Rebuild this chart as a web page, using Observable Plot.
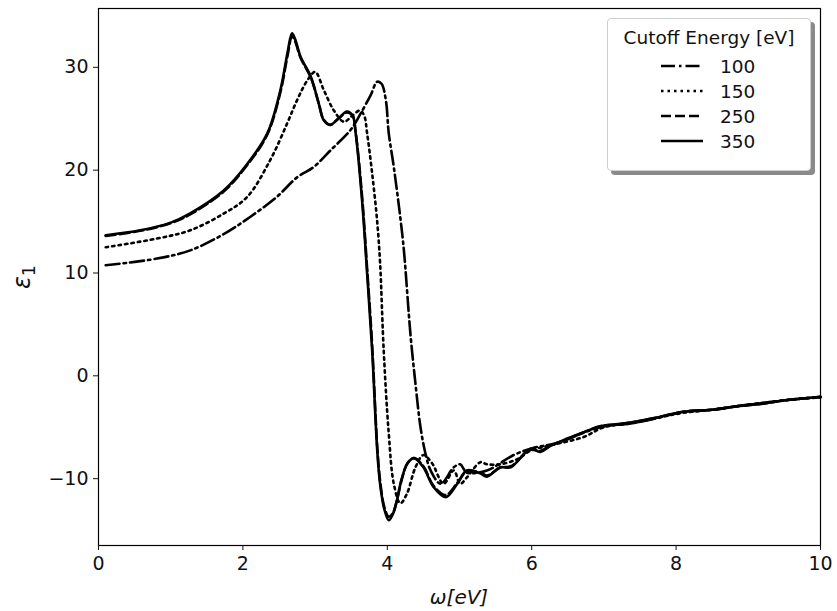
<!DOCTYPE html>
<html>
<head>
<meta charset="utf-8">
<script src="https://cdn.jsdelivr.net/npm/d3@7"></script>
<script src="https://cdn.jsdelivr.net/npm/@observablehq/plot@0.6"></script>
<style>
  html, body { margin: 0; padding: 0; background: #fff; }
  #wrap { position: relative; width: 837px; height: 611px; font-family: "DejaVu Sans", sans-serif; }
  #legend { position: absolute; left: 607px; top: 18px; width: 204px; height: 153px;
    background: #fff; border: 1px solid #cfcfcf; border-radius: 4px;
    box-shadow: 4px 4px 0 #8a8a8a; box-sizing: border-box; font-size: 18.5px; color: #111; }
  #legend .title { text-align: center; margin-top: 8px; line-height: 22px; }
  #legend .row { position: absolute; left: 52px; height: 24px; display: flex; align-items: center; }
  #legend .row span { margin-left: 16px; }
</style>
</head>
<body>
<div id="wrap"></div>
<script>
// Cutoff energies (legend labels)
const cutoffs = ["100", "150", "250", "350"];

// 100 eV (dash-dot)
const x100 = [0.1,0.81,1.27,1.74,2.1,2.47,2.75,2.98,3.21,3.49,3.63,3.77,3.86,3.92,3.98,4.02,4.09,4.18,4.23,4.32,4.39,4.46,4.53,4.6,4.74,4.92,5.01,5.1,5.38,5.75,6.03,6.31,6.95,7.4,7.8,8.1,8.5,8.9,9.3,9.6,10];
const y100 = [10.75,11.4,12.2,13.8,15.45,17.4,19.3,20.3,21.9,23.9,25.5,27.3,28.6,28.4,26.8,23.6,20.3,15.4,12.2,4.1,-0.76,-5.0,-7.6,-9.2,-10.5,-8.9,-8.6,-9.4,-9.2,-7.7,-7.0,-6.6,-5.0,-4.6,-4.0,-3.5,-3.3,-2.9,-2.55,-2.3,-2.05];

// 150 eV (dotted)
const x150 = [0.1,0.81,1.27,1.74,2.06,2.38,2.61,2.75,2.89,3.0,3.12,3.26,3.40,3.5,3.62,3.68,3.72,3.79,3.86,3.9,3.95,4.02,4.09,4.18,4.27,4.39,4.5,4.62,4.78,4.92,5.01,5.1,5.29,5.38,5.57,5.8,5.98,6.3,6.72,7.0,7.4,7.8,8.1,8.5,8.9,9.3,9.6,10];
const y150 = [12.5,13.35,14.15,15.8,17.4,21.0,24.5,26.8,28.7,29.55,27.8,25.8,24.7,25.2,25.8,25.3,23.6,19.7,15.0,11.0,2.5,-5.6,-10.5,-12.4,-11.5,-8.9,-7.7,-8.5,-10.5,-9.2,-10.5,-9.9,-8.4,-8.6,-8.6,-8.1,-7.3,-6.7,-5.95,-5.0,-4.6,-4.0,-3.6,-3.3,-2.9,-2.55,-2.3,-2.1];

// 250 eV (dashed)
const x250 = [0.1,0.58,1.0,1.27,1.73,2.06,2.34,2.52,2.62,2.68,2.72,2.80,2.94,3.05,3.12,3.21,3.32,3.44,3.52,3.56,3.65,3.72,3.79,3.86,3.9,3.96,4.02,4.08,4.13,4.2,4.28,4.37,4.5,4.64,4.81,4.97,5.1,5.29,5.38,5.57,5.71,5.98,6.12,6.26,6.49,6.75,6.95,7.2,7.41,7.7,8.1,8.5,8.8,9.2,9.49,10];
const y250 = [13.6,14.1,14.85,15.7,17.9,20.5,23.5,27.6,31.2,33.0,32.6,30.9,29.0,26.5,24.9,24.4,25.0,25.6,25.3,23.8,17.5,10.5,3.0,-6.8,-10.2,-12.8,-13.7,-13.3,-12.2,-10.1,-8.5,-8.0,-8.8,-10.7,-11.6,-10.4,-9.3,-9.4,-9.7,-8.9,-8.8,-7.2,-7.3,-6.8,-6.2,-5.4,-4.9,-4.7,-4.5,-4.1,-3.5,-3.3,-3.0,-2.7,-2.4,-2.05];

// 350 eV (solid)
const x350 = [0.1,0.58,1.0,1.27,1.73,2.06,2.34,2.52,2.62,2.68,2.72,2.80,2.94,3.05,3.12,3.21,3.32,3.44,3.52,3.56,3.65,3.72,3.79,3.86,3.9,3.96,4.02,4.08,4.13,4.2,4.28,4.37,4.5,4.64,4.81,4.97,5.1,5.29,5.38,5.57,5.71,5.98,6.12,6.26,6.49,6.75,6.95,7.2,7.41,7.7,8.1,8.5,8.8,9.2,9.49,10];
const y350 = [13.67,14.15,14.9,15.8,18.0,20.6,23.6,27.8,31.5,33.3,32.8,31.0,29.1,26.5,24.85,24.4,25.0,25.7,25.3,23.7,17.1,10.0,2.5,-7.2,-10.5,-13.0,-14.05,-13.4,-12.2,-10.0,-8.5,-8.0,-8.9,-10.8,-11.8,-10.5,-9.2,-9.5,-9.8,-8.9,-8.9,-7.1,-7.4,-6.8,-6.1,-5.4,-4.9,-4.7,-4.5,-4.1,-3.5,-3.3,-3.0,-2.7,-2.4,-2.06];

// Axis ticks
const xTicks = [0, 2, 4, 6, 8, 10];
const yTicks = [-10, 0, 10, 20, 30];

const series = [
  {name: "100", xs: x100, ys: y100, dash: "14,4,2.5,4"},
  {name: "150", xs: x150, ys: y150, dash: "2.5,4"},
  {name: "250", xs: x250, ys: y250, dash: "10,4"},
  {name: "350", xs: x350, ys: y350, dash: null}
];

const marks = [];
for (const s of series) {
  const data = s.xs.map((x, i) => ({x, y: s.ys[i]}));
  marks.push(Plot.line(data, {x: "x", y: "y", stroke: "#000", strokeWidth: 2.6,
    strokeDasharray: s.dash || undefined, curve: "catmull-rom", strokeLinejoin: "round"}));
}
marks.push(Plot.frame({stroke: "#000", strokeWidth: 1.2}));
marks.push(Plot.axisX({ticks: xTicks, tickSize: 5, tickPadding: 6, fontSize: 19, label: null, tickFormat: d => String(d)}));
marks.push(Plot.axisY({ticks: yTicks, tickSize: 5, tickPadding: 5, fontSize: 19, label: null, tickFormat: d => (d < 0 ? "\u2212" + Math.abs(d) : String(d))}));

const chart = Plot.plot({
  width: 837,
  height: 611,
  marginLeft: 98,
  marginRight: 17,
  marginTop: 8,
  marginBottom: 66,
  style: {fontFamily: "DejaVu Sans", color: "#111", background: "#fff"},
  x: {domain: [0, 10]},
  y: {domain: [-16.5, 35.72]},
  marks
});

// Axis labels as SVG text
const ns = "http://www.w3.org/2000/svg";
const xl = document.createElementNS(ns, "text");
xl.setAttribute("x", 459); xl.setAttribute("y", 604);
xl.setAttribute("text-anchor", "middle");
xl.setAttribute("font-family", "DejaVu Sans"); xl.setAttribute("font-size", "20");
xl.setAttribute("font-style", "italic"); xl.setAttribute("fill", "#111");
xl.textContent = "ω[eV]";
chart.appendChild(xl);

const yl = document.createElementNS(ns, "text");
yl.setAttribute("transform", "translate(30,277) rotate(-90)");
yl.setAttribute("text-anchor", "middle");
yl.setAttribute("font-family", "DejaVu Sans"); yl.setAttribute("font-size", "24");
yl.setAttribute("font-style", "italic"); yl.setAttribute("fill", "#111");
yl.innerHTML = 'ε<tspan font-style="normal" font-size="17" dy="5">1</tspan>';
chart.appendChild(yl);

const wrap = document.getElementById("wrap");
wrap.appendChild(chart);

// Legend
const legend = document.createElement("div");
legend.id = "legend";
legend.innerHTML = '<div class="title">Cutoff Energy [eV]</div>';
series.forEach((s, i) => {
  const row = document.createElement("div");
  row.className = "row";
  row.style.top = (35 + i * 25) + "px";
  row.innerHTML = `<svg width="44" height="10"><line x1="1" y1="5" x2="43" y2="5" stroke="#000" stroke-width="2.6" ${s.dash ? `stroke-dasharray="${s.dash}"` : ""}/></svg><span>${cutoffs[i]}</span>`;
  legend.appendChild(row);
});
wrap.appendChild(legend);
</script>
</body>
</html>
